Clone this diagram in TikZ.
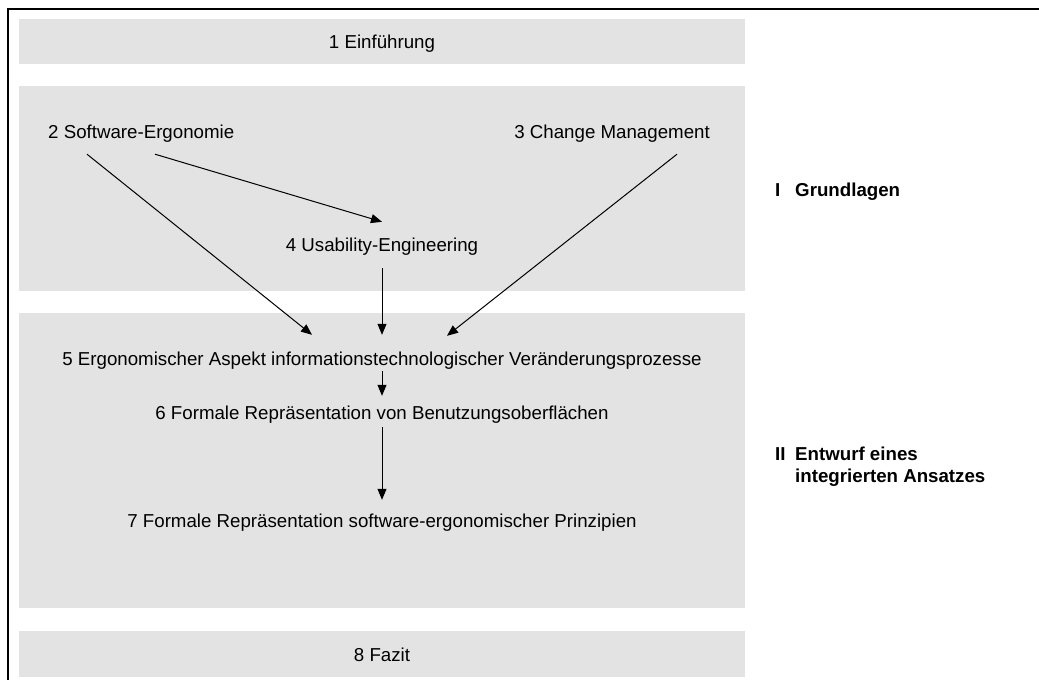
\documentclass[tikz,border=0pt]{standalone}
\usepackage{fontspec}
\setmainfont{Liberation Sans}
\usetikzlibrary{arrows.meta}
\definecolor{panel}{HTML}{E3E3E3}
\begin{document}
\begin{tikzpicture}[x=1pt,y=-1pt,
  txt/.style={inner sep=0pt,text height=13.5pt,text depth=4pt,anchor=base,
    font=\fontsize{18.7}{22}\selectfont},
  part/.style={txt,anchor=base west,font=\fontsize{18.7}{22}\selectfont\bfseries},
  arr/.style={line width=1pt,-{Triangle[length=11pt,width=9pt]}},
  panelbox/.style={fill=panel,draw=none}]
\useasboundingbox (0,0) rectangle (1039,680);

% frame on the top and left
\draw[line width=2pt] (8,680) -- (8,9.2) -- (1039,9.2);

% grey panels
\fill[panelbox] (19,19) rectangle (745,64);
\fill[panelbox] (19,86) rectangle (745,291);
\fill[panelbox] (19,313) rectangle (745,608);
\fill[panelbox] (19,631) rectangle (745,677);

% chapters
\node[txt] (n1) at (382,48.5) {1 Einführung};
\node[txt,anchor=base west] (n2) at (48,138.5) {2 Software-Ergonomie};
\node[txt,anchor=base east] (n3) at (710,138) {3 Change Management};
\node[txt] (n4) at (382,251) {4 Usability-Engineering};
\node[txt] (n5) at (382,365) {5 Ergonomischer Aspekt informationstechnologischer Veränderungsprozesse};
\node[txt] (n6) at (382,419) {6 Formale Repräsentation von Benutzungsoberflächen};
\node[txt] (n7) at (382,527) {7 Formale Repräsentation software-ergonomischer Prinzipien};
\node[txt] (n8) at (382,661) {8 Fazit};

% parts
\node[part] (p1n) at (775,196) {I};
\node[part] (p1t) at (795,196) {Grundlagen};
\node[part] (p2n) at (775,460) {II};
\node[part] (p2t) at (795,460) {Entwurf eines};
\node[part] (p2u) at (795,482) {integrierten Ansatzes};

% dependencies
\draw[arr] ([shift={(107,11.5)}]n2.south west) -- ([shift={(0,-15.5)}]n4.north);
\draw[arr] ([shift={(39,11.5)}]n2.south west) -- ([shift={(-70,-16.5)}]n5.north);
\draw[arr] ([shift={(-33,12)}]n3.south east) -- ([shift={(65,-15.5)}]n5.north);
\draw[arr] ([shift={(0,13)}]n4.south) -- ([shift={(0,-16.5)}]n5.north);
\draw[arr] ([shift={(0,2)}]n5.south) -- ([shift={(0,-9.5)}]n6.north);
\draw[arr] ([shift={(0,4)}]n6.south) -- ([shift={(0,-13.5)}]n7.north);
\end{tikzpicture}
\end{document}
